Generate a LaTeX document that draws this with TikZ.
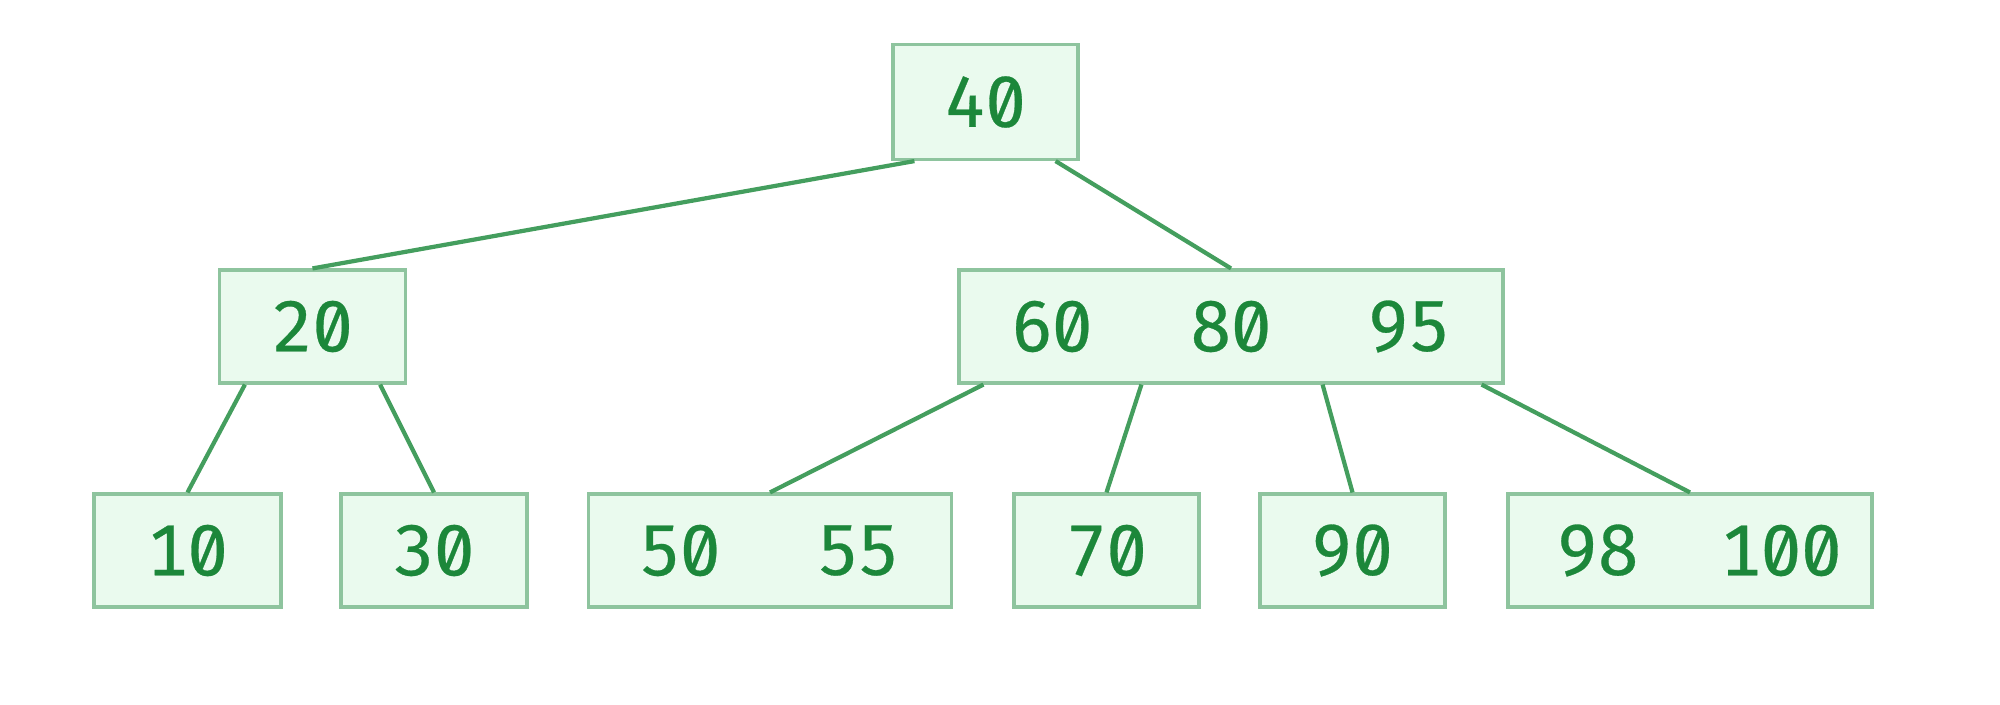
\documentclass[tikz,border=0pt]{standalone}
\usepackage{fontspec}
\newfontfamily\keyfont[Numbers=Monospaced,RawFeature=+zero,FakeBold=0.4]{Fira Sans}
\definecolor{boxfill}{HTML}{EAFAEE}
\definecolor{boxdraw}{HTML}{8EC49E}
\definecolor{keytext}{HTML}{1C873A}
\definecolor{edgecol}{HTML}{449E5E}
\tikzset{
  bbox/.style={draw=boxdraw, fill=boxfill, line width=0.9pt, minimum height=1.13cm, inner sep=0pt},
  keylabel/.style={text=keytext, font=\keyfont\fontsize{20.5}{23}\selectfont, inner sep=0pt},
  edge/.style={draw=edgecol, line width=1.2pt}
}
\begin{document}
\begin{tikzpicture}
\useasboundingbox (0,0) rectangle (20,-7.04);
% level 0
\node[bbox, minimum width=1.85cm, minimum height=1.15cm] (root) at (9.855,-1.02) {};
\node[keylabel] (k40) at (root) {40};
% level 1
\node[bbox, minimum width=1.86cm] (n20) at (3.125,-3.265) {};
\node[keylabel] (k20) at (n20) {20};
\node[bbox, minimum width=5.44cm] (mid) at (12.31,-3.265) {};
\node[keylabel] (k60) at (10.52,-3.265) {60};
\node[keylabel] (k80) at (12.31,-3.265) {80};
\node[keylabel] (k95) at (14.09,-3.265) {95};
% level 2
\node[bbox, minimum width=1.87cm] (n10) at (1.875,-5.505) {};
\node[keylabel] (k10) at (n10) {10};
\node[bbox, minimum width=1.86cm] (n30) at (4.34,-5.505) {};
\node[keylabel] (k30) at (n30) {30};
\node[bbox, minimum width=3.63cm] (n50) at (7.70,-5.505) {};
\node[keylabel] (k50) at (6.80,-5.505) {50};
\node[keylabel] (k55) at (8.58,-5.505) {55};
\node[bbox, minimum width=1.85cm] (n70) at (11.065,-5.505) {};
\node[keylabel] (k70) at (n70) {70};
\node[bbox, minimum width=1.85cm] (n90) at (13.525,-5.505) {};
\node[keylabel] (k90) at (n90) {90};
\node[bbox, minimum width=3.64cm] (n98) at (16.90,-5.505) {};
\node[keylabel] (k98) at (15.98,-5.505) {98};
\node[keylabel] (k100) at (17.81,-5.505) {100};
% edges
\draw[edge] ([xshift=0.23cm]root.south west) -- (n20.north);
\draw[edge] ([xshift=-0.24cm]root.south east) -- (mid.north);
\draw[edge] ([xshift=0.27cm]n20.south west) -- (n10.north);
\draw[edge] ([xshift=-0.27cm]n20.south east) -- (n30.north);
\draw[edge] ([xshift=0.26cm]mid.south west) -- (n50.north);
\draw[edge] ([xshift=1.84cm]mid.south west) -- (n70.north);
\draw[edge] ([xshift=-1.82cm]mid.south east) -- (n90.north);
\draw[edge] ([xshift=-0.23cm]mid.south east) -- (n98.north);
\end{tikzpicture}
\end{document}
